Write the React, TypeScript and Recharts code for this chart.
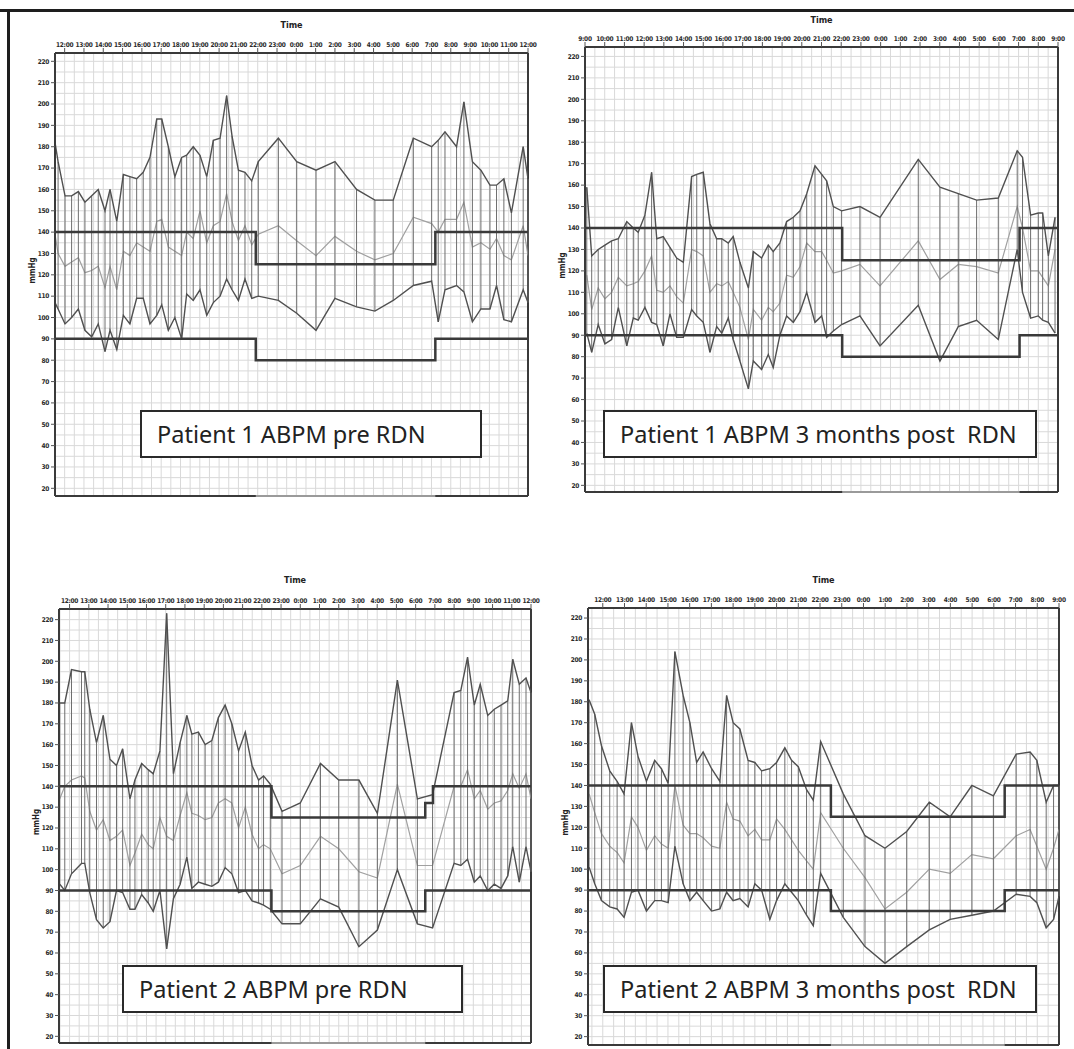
import React from "react";
import {
  LineChart,
  Line,
  XAxis,
  YAxis,
  CartesianGrid,
  ReferenceLine,
  ErrorBar,
} from "recharts";

// mmHg axis, same for all four panels
const yTicks = [20, 30, 40, 50, 60, 70, 80, 90, 100, 110, 120, 130, 140, 150, 160, 170, 180, 190, 200, 210, 220];

// time axis ticks (hours, day 2 continues past 24)
const noonToNoonHours = [12, 13, 14, 15, 16, 17, 18, 19, 20, 21, 22, 23, 24, 25, 26, 27, 28, 29, 30, 31, 32, 33, 34, 35, 36];
const noonToNoonLabels = ["12:00", "13:00", "14:00", "15:00", "16:00", "17:00", "18:00", "19:00", "20:00", "21:00", "22:00", "23:00", "0:00", "1:00", "2:00", "3:00", "4:00", "5:00", "6:00", "7:00", "8:00", "9:00", "10:00", "11:00", "12:00"];
const nineToNineHours = [9, 10, 11, 12, 13, 14, 15, 16, 17, 18, 19, 20, 21, 22, 23, 24, 25, 26, 27, 28, 29, 30, 31, 32, 33];
const nineToNineLabels = ["9:00", "10:00", "11:00", "12:00", "13:00", "14:00", "15:00", "16:00", "17:00", "18:00", "19:00", "20:00", "21:00", "22:00", "23:00", "0:00", "1:00", "2:00", "3:00", "4:00", "5:00", "6:00", "7:00", "8:00", "9:00"];
const noonToNineHours = [12, 13, 14, 15, 16, 17, 18, 19, 20, 21, 22, 23, 24, 25, 26, 27, 28, 29, 30, 31, 32, 33];
const noonToNineLabels = ["12:00", "13:00", "14:00", "15:00", "16:00", "17:00", "18:00", "19:00", "20:00", "21:00", "22:00", "23:00", "0:00", "1:00", "2:00", "3:00", "4:00", "5:00", "6:00", "7:00", "8:00", "9:00"];

// Patient 1, ABPM pre RDN
const p1Time = [11.5, 11.66, 12.02, 12.36, 12.71, 13.05, 13.4, 13.74, 14.09, 14.35, 14.7, 15.04, 15.38, 15.73, 16.07, 16.42, 16.77, 17.03, 17.37, 17.71, 18.06, 18.32, 18.66, 19.01, 19.36, 19.7, 20.05, 20.39, 20.67, 21.0, 21.34, 21.69, 22.03, 23.07, 24.02, 25.02, 26.0, 27.12, 28.07, 29.02, 30.06, 31.01, 31.35, 31.7, 32.3, 32.68, 33.12, 33.56, 34.03, 34.37, 34.75, 35.14, 35.75, 36.0];
const p1Sys = [182, 173, 157, 157, 159, 154, 157, 160, 150, 160, 145, 167, 166, 165, 168, 175, 193, 193, 180, 166, 175, 176, 180, 176, 166, 183, 184, 204, 185, 169, 168, 164, 173, 184, 173, 169, 173, 160, 155, 155, 184, 180, 183, 187, 180, 201, 173, 169, 162, 162, 165, 149, 180, 165];
const p1Map = [139, 130, 124, 126, 128, 121, 122, 124, 114, 124, 113, 131, 129, 135, 133, 131, 145, 146, 133, 131, 129, 140, 137, 150, 135, 143, 145, 158, 145, 136, 143, 134, 139, 143, 136, 129, 138, 131, 127, 130, 147, 144, 140, 146, 146, 154, 133, 135, 132, 137, 129, 127, 143, 129];
const p1Dia = [107, 104, 97, 100, 104, 94, 91, 97, 84, 94, 85, 101, 97, 109, 109, 97, 101, 106, 94, 100, 90, 111, 108, 113, 101, 107, 110, 118, 113, 108, 118, 109, 110, 108, 102, 94, 109, 105, 103, 108, 115, 117, 98, 113, 115, 112, 98, 104, 104, 115, 99, 98, 113, 107];
const p1ThrTime = [11.5, 21.9, 31.2, 36];
const p1ThrHi = [140, 125, 140, 140];
const p1ThrLo = [90, 80, 90, 90];

// Patient 1, ABPM 3 months post RDN
const p2Time = [9.09, 9.34, 9.67, 10.01, 10.35, 10.69, 11.12, 11.45, 11.7, 12.04, 12.38, 12.64, 12.97, 13.31, 13.65, 13.99, 14.41, 14.67, 15.0, 15.34, 15.68, 15.94, 16.27, 16.52, 16.86, 17.29, 17.54, 17.96, 18.3, 18.55, 18.89, 19.23, 19.57, 19.91, 20.25, 20.67, 21.01, 21.26, 21.6, 22.02, 22.95, 23.97, 25.91, 27.01, 27.94, 28.87, 29.97, 30.93, 31.2, 31.61, 32.0, 32.22, 32.51, 32.85];
const p2Sys = [159, 127, 130, 132, 134, 135, 143, 140, 138, 146, 166, 135, 136, 131, 126, 124, 164, 165, 166, 142, 135, 135, 133, 136, 124, 112, 129, 126, 132, 129, 133, 143, 145, 148, 156, 169, 165, 162, 150, 148, 150, 145, 172, 159, 156, 153, 154, 176, 173, 146, 147, 147, 127, 145];
const p2Map = [118, 102, 112, 107, 110, 117, 113, 114, 115, 120, 127, 111, 110, 113, 108, 105, 130, 129, 127, 110, 114, 113, 115, 110, 103, 88, 102, 97, 103, 101, 105, 118, 117, 122, 133, 129, 129, 125, 119, 120, 123, 113, 134, 116, 123, 122, 119, 150, 140, 120, 120, 117, 113, 130];
const p2Dia = [91, 82, 95, 86, 88, 103, 85, 98, 97, 103, 96, 95, 85, 100, 89, 89, 102, 99, 96, 82, 94, 91, 98, 88, 78, 65, 78, 74, 81, 75, 90, 99, 96, 101, 110, 96, 99, 89, 92, 95, 99, 85, 104, 78, 94, 97, 88, 130, 110, 98, 99, 97, 96, 91];
const p2ThrTime = [9, 22.05, 31.05, 33];
const p2ThrHi = [140, 125, 140, 140];
const p2ThrLo = [90, 80, 90, 90];

// Patient 2, ABPM pre RDN
const p3Time = [11.49, 11.75, 12.1, 12.62, 12.79, 13.05, 13.4, 13.75, 14.1, 14.44, 14.76, 15.14, 15.4, 15.75, 16.09, 16.35, 16.7, 17.05, 17.4, 17.75, 18.1, 18.36, 18.7, 19.05, 19.4, 19.74, 20.09, 20.44, 20.79, 21.14, 21.49, 21.83, 22.09, 22.44, 23.05, 24.0, 25.05, 26.0, 27.05, 28.01, 29.05, 30.09, 30.88, 32.0, 32.35, 32.7, 33.05, 33.36, 33.75, 34.09, 34.44, 34.79, 35.05, 35.39, 35.74, 36.0];
const p3Sys = [180, 180, 196, 195, 195, 177, 161, 174, 153, 150, 158, 134, 143, 151, 148, 146, 157, 223, 146, 161, 174, 165, 166, 160, 162, 173, 179, 170, 157, 166, 150, 143, 145, 141, 128, 132, 151, 143, 143, 127, 191, 134, 136, 185, 186, 202, 179, 189, 174, 177, 179, 181, 201, 189, 192, 185];
const p3Map = [134, 140, 143, 145, 144, 128, 119, 124, 114, 116, 119, 102, 108, 117, 112, 110, 125, 116, 114, 126, 137, 127, 126, 124, 125, 132, 134, 132, 120, 130, 117, 110, 112, 110, 98, 102, 116, 110, 99, 96, 141, 102, 102, 140, 140, 148, 134, 138, 129, 132, 133, 138, 146, 139, 146, 134];
const p3Dia = [93, 90, 98, 103, 103, 89, 76, 72, 75, 90, 89, 81, 81, 88, 84, 80, 90, 62, 86, 93, 106, 91, 94, 93, 92, 94, 101, 98, 89, 90, 85, 84, 83, 81, 74, 74, 86, 82, 63, 71, 100, 74, 72, 103, 102, 105, 94, 97, 90, 93, 91, 97, 111, 94, 111, 99];
const p3ThrTime = [11.45, 22.5, 30.5, 30.9, 36];
const p3ThrHi = [140, 125, 132, 140, 140];
const p3ThrLo = [90, 80, 90, 90, 90];

// Patient 2, ABPM 3 months post RDN
const p4Time = [11.37, 11.63, 11.94, 12.32, 12.66, 12.98, 13.32, 13.62, 14.01, 14.39, 14.7, 15.01, 15.32, 15.7, 16.01, 16.32, 16.62, 17.01, 17.39, 17.7, 18.0, 18.31, 18.69, 19.0, 19.31, 19.69, 20.0, 20.38, 20.69, 21.0, 21.38, 21.69, 22.03, 23.07, 24.07, 24.99, 25.99, 27.03, 27.99, 28.99, 29.98, 31.03, 31.67, 31.98, 32.41, 32.75, 33.0];
const p4Sys = [181, 174, 159, 147, 142, 136, 170, 154, 142, 152, 148, 141, 204, 183, 170, 151, 156, 148, 142, 183, 170, 167, 152, 151, 147, 148, 151, 158, 152, 149, 138, 133, 161, 136, 116, 110, 118, 132, 125, 140, 135, 155, 156, 152, 132, 140, 140];
const p4Map = [136, 127, 117, 111, 108, 103, 125, 120, 109, 116, 112, 110, 140, 121, 117, 117, 115, 111, 110, 132, 124, 123, 116, 119, 114, 114, 124, 119, 114, 109, 104, 100, 127, 110, 96, 81, 89, 100, 98, 107, 105, 116, 119, 111, 100, 110, 119];
const p4Dia = [101, 93, 85, 82, 81, 77, 89, 90, 80, 85, 85, 84, 111, 93, 85, 89, 85, 80, 81, 89, 85, 86, 82, 93, 90, 76, 85, 93, 89, 85, 78, 73, 98, 77, 63, 55, 63, 71, 76, 78, 80, 88, 87, 84, 72, 76, 87];
const p4ThrTime = [11.32, 22.5, 30.5, 33];
const p4ThrHi = [140, 125, 140, 140];
const p4ThrLo = [90, 80, 90, 90];

const DARK = "#3a3a3a";
const AXIS_FONT = "'Liberation Sans Narrow', 'DejaVu Sans Condensed', sans-serif";
const TICK_STYLE = { fontSize: 6.5, fontWeight: 700, fill: "#2a2a2a", fontFamily: AXIS_FONT, letterSpacing: -0.3 };

type Box = { l: number; t: number; r: number; b: number };

interface PanelProps {
  title: string;
  time: number[];
  sys: number[];
  map: number[];
  dia: number[];
  hours: number[];
  hourLabels: string[];
  xDomain: [number, number];
  yDomain: [number, number];
  thrTime: number[];
  thrHi: number[];
  thrLo: number[];
  nightStart: number;
  nightEnd: number;
  box: Box;
  timeGap: number;
  note: Box;
}

const ML = 50;
const MT = 42;
const MR = 12;
const MB = 6;
const YW = 28;

function Panel(p: PanelProps) {
  const { box } = p;
  const xh = p.timeGap + 5;
  const width = box.r - box.l + ML + MR;
  const height = box.b - box.t + MT + MB;
  const [x0, x1] = p.xDomain;
  const [y0, y1] = p.yDomain;

  const rows = p.time.map((t, i) => ({
    t,
    sys: p.sys[i],
    map: p.map[i],
    dia: p.dia[i],
    err: [0, p.sys[i] - p.dia[i]],
  }));
  const thr = p.thrTime.map((t, i) => ({ t, hi: p.thrHi[i], lo: p.thrLo[i] }));

  // fine grid: every half hour, every 5 mmHg
  const vGrid: number[] = [];
  for (let h = Math.ceil(x0 * 2) / 2; h <= x1; h += 0.5) vGrid.push(h);
  const hGrid: number[] = [];
  for (let v = 20; v <= 220; v += 5) hGrid.push(v);

  const timeLabel = (props: any) => {
    const vb = props.viewBox;
    return (
      <text x={vb.x + vb.width / 2} y={vb.y + 8} textAnchor="middle" fontSize={9} fontWeight={700} fontFamily={AXIS_FONT} fill="#222">
        Time
      </text>
    );
  };
  const mmHgLabel = (props: any) => {
    const vb = props.viewBox;
    const cx = vb.x + 5;
    const cy = vb.y + vb.height / 2 - 4;
    return (
      <text x={cx} y={cy} transform={`rotate(-90 ${cx} ${cy})`} textAnchor="middle" dominantBaseline="central" fontSize={8} fontWeight={700} fontFamily={AXIS_FONT} fill="#222">
        mmHg
      </text>
    );
  };

  return (
    <>
      <div style={{ position: "absolute", left: box.l - ML, top: box.t - MT, width, height }}>
        <LineChart width={width} height={height} data={rows} margin={{ top: MT - xh, left: ML - YW, right: MR, bottom: MB }}>
          <CartesianGrid stroke="#d9d9d9" strokeWidth={1} verticalValues={vGrid} horizontalValues={hGrid} />
          <XAxis
            type="number"
            dataKey="t"
            orientation="top"
            domain={p.xDomain}
            ticks={p.hours}
            interval={0}
            allowDataOverflow
            height={xh}
            tickSize={5}
            tickMargin={1}
            tickFormatter={(v: number) => p.hourLabels[p.hours.indexOf(v)] ?? ""}
            tick={TICK_STYLE}
            axisLine={{ stroke: DARK, strokeWidth: 2 }}
            tickLine={{ stroke: "#555" }}
            label={{ content: timeLabel }}
          />
          <YAxis
            type="number"
            domain={p.yDomain}
            ticks={yTicks}
            interval={0}
            allowDataOverflow
            width={YW}
            tickSize={4}
            tickMargin={2}
            tick={TICK_STYLE}
            axisLine={{ stroke: DARK, strokeWidth: 2 }}
            tickLine={{ stroke: "#555" }}
            label={{ content: mmHgLabel }}
          />
          <ReferenceLine x={x1} stroke={DARK} strokeWidth={2} />
          <ReferenceLine y={y1} stroke={DARK} strokeWidth={2} />
          <ReferenceLine y={y0} stroke="#9a9a9a" strokeWidth={2} />
          <ReferenceLine segment={[{ x: x0, y: y0 }, { x: p.nightStart, y: y0 }]} stroke={DARK} strokeWidth={2} />
          <ReferenceLine segment={[{ x: p.nightEnd, y: y0 }, { x: x1, y: y0 }]} stroke={DARK} strokeWidth={2} />
          <Line dataKey="map" stroke="#a0a0a0" strokeWidth={1.2} dot={false} activeDot={false} isAnimationActive={false} />
          <Line dataKey="dia" stroke="#505050" strokeWidth={1.4} dot={false} activeDot={false} isAnimationActive={false}>
            <ErrorBar dataKey="err" direction="y" width={0} stroke="#6e6e6e" strokeWidth={1} isAnimationActive={false} />
          </Line>
          <Line dataKey="sys" stroke="#505050" strokeWidth={1.4} dot={false} activeDot={false} isAnimationActive={false} />
          <Line data={thr} dataKey="hi" type="stepAfter" stroke={DARK} strokeWidth={2.5} dot={false} activeDot={false} isAnimationActive={false} />
          <Line data={thr} dataKey="lo" type="stepAfter" stroke={DARK} strokeWidth={2.5} dot={false} activeDot={false} isAnimationActive={false} />
        </LineChart>
      </div>
      <div
        style={{
          position: "absolute",
          left: p.note.l,
          top: p.note.t,
          width: p.note.r - p.note.l,
          height: p.note.b - p.note.t,
          boxSizing: "border-box",
          border: "2px solid #2a2a2a",
          background: "#fff",
          display: "flex",
          alignItems: "center",
          paddingLeft: 15,
          fontFamily: "'Noto Sans', sans-serif",
          fontSize: 23.5,
          color: "#222",
          whiteSpace: "pre",
        }}
      >
        {p.title}
      </div>
    </>
  );
}

export default function App() {
  return (
    <div style={{ position: "absolute", left: 0, top: 0, width: 1074, height: 1049, background: "#fff", overflow: "hidden" }}>
      <div style={{ position: "absolute", left: 0, top: 9, width: 1074, height: 3, background: "#1e1e1e" }} />
      <div style={{ position: "absolute", left: 7, top: 9, width: 3, height: 1040, background: "#1e1e1e" }} />
      <Panel
        title="Patient 1 ABPM pre RDN"
        time={p1Time}
        sys={p1Sys}
        map={p1Map}
        dia={p1Dia}
        hours={noonToNoonHours}
        hourLabels={noonToNoonLabels}
        xDomain={[11.5, 36]}
        yDomain={[16.4, 223.9]}
        thrTime={p1ThrTime}
        thrHi={p1ThrHi}
        thrLo={p1ThrLo}
        nightStart={21.9}
        nightEnd={31.2}
        box={{ l: 55, t: 53, r: 528, b: 496 }}
        timeGap={28}
        note={{ l: 140, t: 410, r: 482, b: 458 }}
      />
      <Panel
        title="Patient 1 ABPM 3 months post  RDN"
        time={p2Time}
        sys={p2Sys}
        map={p2Map}
        dia={p2Dia}
        hours={nineToNineHours}
        hourLabels={nineToNineLabels}
        xDomain={[9, 33]}
        yDomain={[16.9, 224.4]}
        thrTime={p2ThrTime}
        thrHi={p2ThrHi}
        thrLo={p2ThrLo}
        nightStart={22.05}
        nightEnd={31.05}
        box={{ l: 585, t: 47, r: 1058, b: 492 }}
        timeGap={27}
        note={{ l: 603, t: 410, r: 1037, b: 458 }}
      />
      <Panel
        title="Patient 2 ABPM pre RDN"
        time={p3Time}
        sys={p3Sys}
        map={p3Map}
        dia={p3Dia}
        hours={noonToNoonHours}
        hourLabels={noonToNoonLabels}
        xDomain={[11.45, 36]}
        yDomain={[16.8, 225.1]}
        thrTime={p3ThrTime}
        thrHi={p3ThrHi}
        thrLo={p3ThrLo}
        nightStart={22.5}
        nightEnd={30.5}
        box={{ l: 59, t: 609, r: 531, b: 1043 }}
        timeGap={29}
        note={{ l: 122, t: 965, r: 463, b: 1013 }}
      />
      <Panel
        title="Patient 2 ABPM 3 months post  RDN"
        time={p4Time}
        sys={p4Sys}
        map={p4Map}
        dia={p4Dia}
        hours={noonToNineHours}
        hourLabels={noonToNineLabels}
        xDomain={[11.32, 33]}
        yDomain={[16.0, 224.8]}
        thrTime={p4ThrTime}
        thrHi={p4ThrHi}
        thrLo={p4ThrLo}
        nightStart={22.5}
        nightEnd={30.5}
        box={{ l: 588, t: 608, r: 1059, b: 1045 }}
        timeGap={28}
        note={{ l: 603, t: 965, r: 1037, b: 1013 }}
      />
    </div>
  );
}
